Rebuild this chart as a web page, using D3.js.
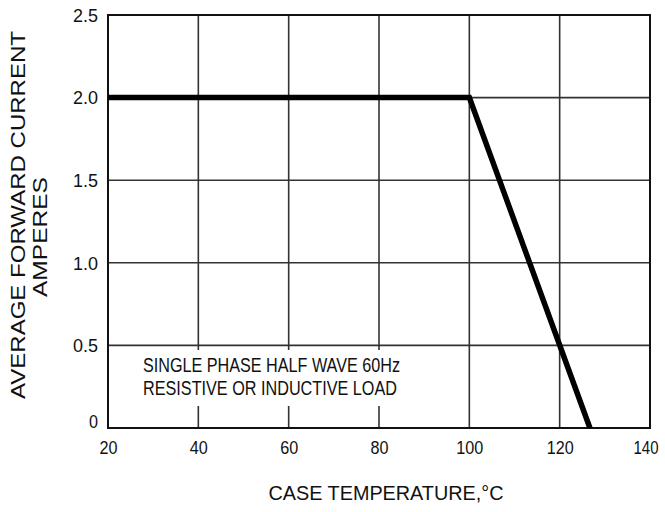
<!DOCTYPE html>
<html><head><meta charset="utf-8">
<script src="https://cdn.jsdelivr.net/npm/d3@7"></script>
<style>
html,body{margin:0;padding:0;background:#fff;}
svg text{font-family:"Liberation Sans",Arial,sans-serif;fill:#111;}
</style></head>
<body>
<svg id="c" width="665" height="512"></svg>
<script>
const xTicks = [20, 40, 60, 80, 100, 120, 140];
const yTicks = [0, 0.5, 1.0, 1.5, 2.0, 2.5];
const yTickLabels = ["0", "0.5", "1.0", "1.5", "2.0", "2.5"];
const tempC = [20, 100, 126.7];
const currentA = [2.0, 2.0, 0];
const noteLines = ["SINGLE PHASE HALF WAVE 60Hz", "RESISTIVE OR INDUCTIVE LOAD"];
const xTitle = "CASE TEMPERATURE,°C";
const yTitle1 = "AVERAGE FORWARD CURRENT";
const yTitle2 = "AMPERES";

const svg = d3.select("#c");
const L = 108, R = 650, T = 15, B = 428;
const x = d3.scaleLinear().domain([20, 140]).range([L, R]);
const y = d3.scaleLinear().domain([0, 2.5]).range([B, T]);

const labW = s => s.split("").reduce((a, c) => a + (c === "." ? 5 : 9), 0);

// gridlines
const grid = svg.append("g").attr("stroke", "#333").attr("stroke-width", 1.6);
grid.selectAll("line.v").data(xTicks.slice(1, -1)).join("line")
  .attr("x1", d => x(d)).attr("x2", d => x(d)).attr("y1", T).attr("y2", B);
grid.selectAll("line.h").data(yTicks.slice(1, -1)).join("line")
  .attr("x1", L).attr("x2", R).attr("y1", d => y(d)).attr("y2", d => y(d));

// note box (masks grid)
svg.append("rect").attr("x", 140).attr("y", 350).attr("width", 266).attr("height", 56).attr("fill", "#fff");
svg.selectAll("text.note").data(noteLines).join("text")
  .attr("class", "note")
  .attr("x", 143).attr("y", (d, i) => 372 + i * 23)
  .attr("font-size", 20)
  .attr("textLength", (d, i) => i === 0 ? 257 : 254)
  .attr("lengthAdjust", "spacingAndGlyphs")
  .text(d => d);

// frame
svg.append("rect").attr("x", L).attr("y", T).attr("width", R - L).attr("height", B - T)
  .attr("fill", "none").attr("stroke", "#111").attr("stroke-width", 2);

// curve
const pts = tempC.map((t, i) => [t, currentA[i]]);
svg.append("path").datum(pts)
  .attr("d", d3.line().x(d => x(d[0])).y(d => y(d[1])))
  .attr("fill", "none").attr("stroke", "#000").attr("stroke-width", 5.5)
  .attr("stroke-linejoin", "miter");

// axes (labels only)
const xAxis = d3.axisBottom(x).tickValues(xTicks).tickSize(0).tickPadding(13).tickFormat(d3.format("d"));
const gx = svg.append("g").attr("transform", `translate(0,${B})`).call(xAxis);
gx.select(".domain").remove();
gx.selectAll("text").attr("font-size", d => d === 140 ? 18 : 19).attr("fill", "#111")
  .attr("font-family", '"Liberation Sans",Arial,sans-serif')
  .attr("textLength", d => labW(String(d)) - (d === 140 ? 2 : 0)).attr("lengthAdjust", "spacingAndGlyphs")
  .attr("text-anchor", d => d === 140 ? "end" : "middle")
  .attr("dx", d => d === 140 ? 8 : 0);

const yAxis = d3.axisLeft(y).tickValues(yTicks).tickSize(0).tickPadding(10).tickFormat((d, i) => yTickLabels[i]);
const gy = svg.append("g").attr("transform", `translate(${L},0)`).call(yAxis);
gy.select(".domain").remove();
gy.selectAll("text").attr("font-size", 19).attr("fill", "#111")
  .attr("font-family", '"Liberation Sans",Arial,sans-serif')
  .attr("textLength", (d, i) => labW(yTickLabels[i]) + (i ? 2 : 0)).attr("lengthAdjust", "spacingAndGlyphs")
  .attr("dy", d => d === 0 ? "-0.05em" : "0.33em");

// titles
svg.append("text").attr("x", 386).attr("y", 500).attr("text-anchor", "middle")
  .attr("font-size", 21).attr("textLength", 235).attr("lengthAdjust", "spacingAndGlyphs").text(xTitle);

svg.append("text").attr("transform", "translate(25,215) rotate(-90)").attr("text-anchor", "middle")
  .attr("font-size", 21)
  .attr("textLength", 368).attr("lengthAdjust", "spacingAndGlyphs").text(yTitle1);
svg.append("text").attr("transform", "translate(47,237) rotate(-90)").attr("text-anchor", "middle")
  .attr("font-size", 21)
  .attr("textLength", 120).attr("lengthAdjust", "spacingAndGlyphs").text(yTitle2);
</script>
</body></html>
